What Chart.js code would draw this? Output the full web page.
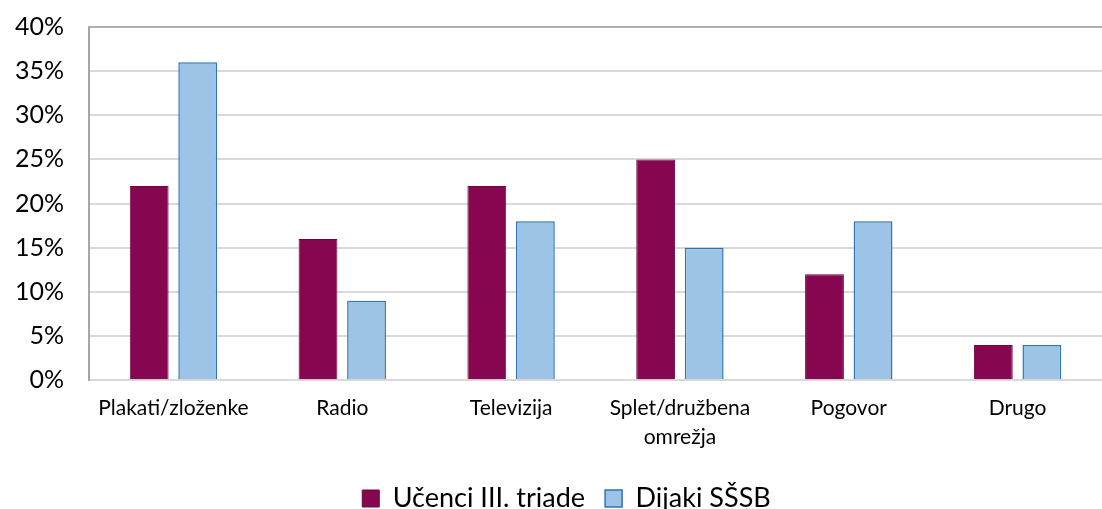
<!DOCTYPE html>
<html>
<head>
<meta charset="utf-8">
<script src="https://cdn.jsdelivr.net/npm/chart.js@4.4.1/dist/chart.umd.min.js"></script>
<style>
  html, body { margin: 0; padding: 0; background: #fff; overflow: hidden; }
  #wrap { width: 1102px; height: 509px; position: relative; }
</style>
</head>
<body>
<div id="wrap"><canvas id="graf"></canvas></div>
<script>
var kategorije = ['Plakati/zloženke', 'Radio', 'Televizija', ['Splet/družbena', 'omrežja'], 'Pogovor', 'Drugo'];
var ucenci = [22, 16, 22, 25, 12, 4];
var dijaki = [36, 9, 18, 15, 18, 4];
var oznakaUcenci = 'Učenci III. triade';
var oznakaDijaki = 'Dijaki SŠSB';

var pisava = 'Lato, "Open Sans", sans-serif';

// legenda v izvirniku ni cisto na sredini
var pomikLegende = {
  id: 'pomikLegende',
  afterLayout: function (chart) {
    chart.legend.left += 14;
    chart.legend.right += 14;
  }
};

var graf = new Chart(
  document.getElementById('graf'),
  {
    type: 'bar',
    plugins: [pomikLegende],
    data: {
      labels: kategorije,
      datasets: [
        {
          label: oznakaUcenci,
          data: ucenci,
          backgroundColor: '#860650',
          borderColor: '#6e0442',
          borderWidth: 1,
          barPercentage: 0.8,
          categoryPercentage: 0.575
        },
        {
          label: oznakaDijaki,
          data: dijaki,
          backgroundColor: '#9dc3e6',
          borderColor: '#2e75b6',
          borderWidth: 1.5,
          barPercentage: 0.8,
          categoryPercentage: 0.575
        }
      ]
    },
    options: {
      responsive: true,
      maintainAspectRatio: false,
      animation: false,
      layout: {
        padding: { left: -10, right: -13, top: 0, bottom: -13 }
      },
      plugins: {
        tooltip: { enabled: false },
        legend: {
          position: 'bottom',
          labels: {
            font: { family: pisava, size: 27 },
            color: '#000',
            boxWidth: 17,
            boxHeight: 17,
            padding: 20,
            useBorderRadius: false
          }
        }
      },
      scales: {
        x: {
          grid: { display: false, drawTicks: false },
          border: { color: '#d9d9d9', width: 2 },
          ticks: {
            font: { family: pisava, size: 21, lineHeight: 1.35 },
            color: '#000',
            padding: 14,
            maxRotation: 0,
            autoSkip: false
          }
        },
        y: {
          min: 0,
          max: 40,
          ticks: {
            stepSize: 5,
            font: { family: pisava, size: 25, lineHeight: 0.15 },
            color: '#000',
            padding: 25,
            callback: function (v) { return v + '%'; }
          },
          grid: {
            drawTicks: false,
            lineWidth: 2,
            color: function (ctx) {
              return ctx.tick && ctx.tick.value === 40 ? '#b0b0b0' : '#d9d9d9';
            }
          },
          border: { color: '#a6a6a6', width: 2 }
        }
      }
    }
  }
);
</script>
</body>
</html>
